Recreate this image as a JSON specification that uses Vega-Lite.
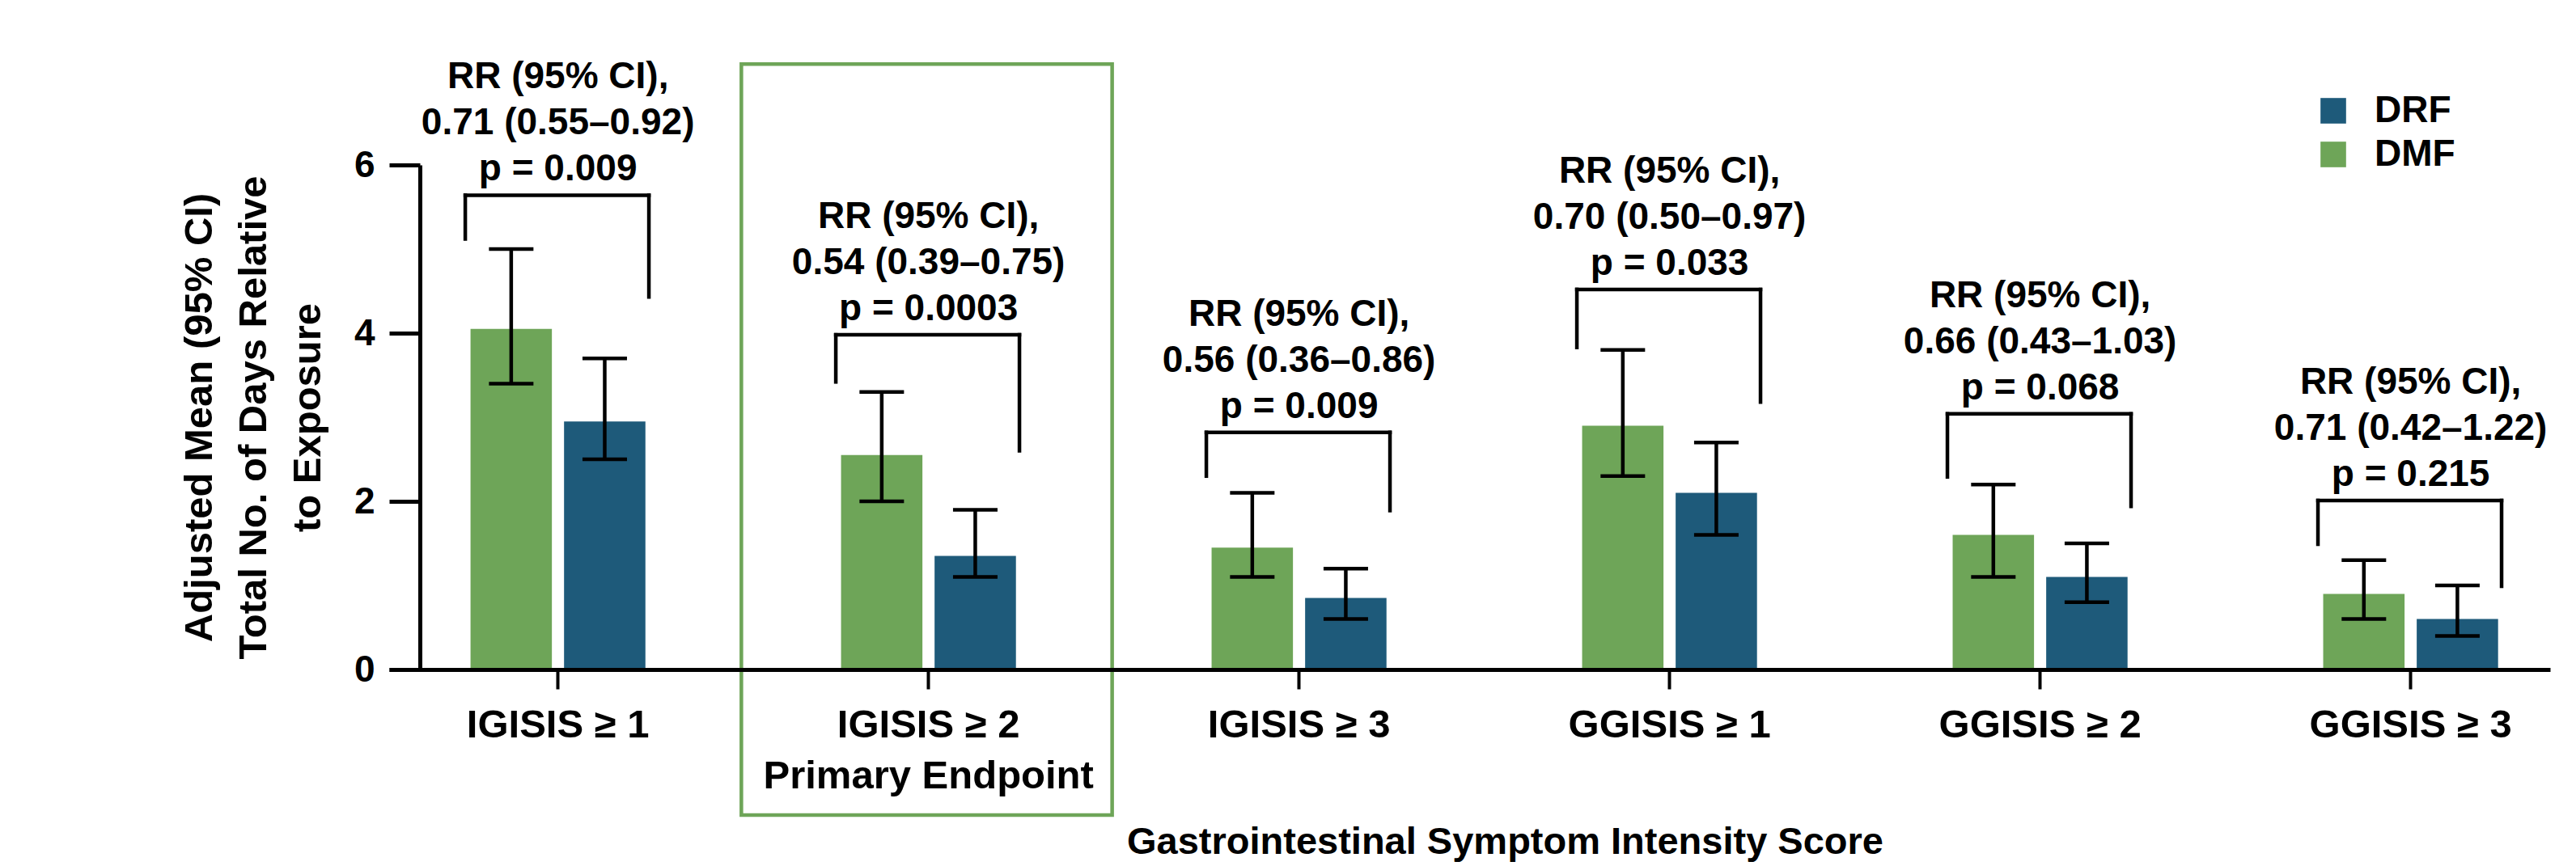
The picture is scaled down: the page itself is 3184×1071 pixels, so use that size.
{
  "$schema": "https://vega.github.io/schema/vega-lite/v6.json",
  "width": 2671,
  "height": 624,
  "autosize": {"type": "none"},
  "padding": {"left": 481, "top": 204, "right": 32, "bottom": 243},
  "background": "white",
  "config": {"font": "Liberation Sans", "view": {"stroke": null}, "axis": {"grid": false}},
  "datasets": {
    "bars": [
      {"score": "IGISIS ≥ 1", "drug": "DMF", "mean": 4.05, "lo": 3.4, "hi": 5.0},
      {"score": "IGISIS ≥ 1", "drug": "DRF", "mean": 2.95, "lo": 2.5, "hi": 3.7},
      {"score": "IGISIS ≥ 2", "drug": "DMF", "mean": 2.55, "lo": 2.0, "hi": 3.3},
      {"score": "IGISIS ≥ 2", "drug": "DRF", "mean": 1.35, "lo": 1.1, "hi": 1.9},
      {"score": "IGISIS ≥ 3", "drug": "DMF", "mean": 1.45, "lo": 1.1, "hi": 2.1},
      {"score": "IGISIS ≥ 3", "drug": "DRF", "mean": 0.85, "lo": 0.6, "hi": 1.2},
      {"score": "GGISIS ≥ 1", "drug": "DMF", "mean": 2.9, "lo": 2.3, "hi": 3.8},
      {"score": "GGISIS ≥ 1", "drug": "DRF", "mean": 2.1, "lo": 1.6, "hi": 2.7},
      {"score": "GGISIS ≥ 2", "drug": "DMF", "mean": 1.6, "lo": 1.1, "hi": 2.2},
      {"score": "GGISIS ≥ 2", "drug": "DRF", "mean": 1.1, "lo": 0.8, "hi": 1.5},
      {"score": "GGISIS ≥ 3", "drug": "DMF", "mean": 0.9, "lo": 0.6, "hi": 1.3},
      {"score": "GGISIS ≥ 3", "drug": "DRF", "mean": 0.6, "lo": 0.4, "hi": 1.0}
    ],
    "ann": [
      {"score": "IGISIS ≥ 1", "bt": 5.64, "le": 5.12, "re": 4.43, "label": "RR (95% CI),\n0.71 (0.55–0.92)\np = 0.009"},
      {"score": "IGISIS ≥ 2", "bt": 3.98, "le": 3.42, "re": 2.6, "label": "RR (95% CI),\n0.54 (0.39–0.75)\np = 0.0003"},
      {"score": "IGISIS ≥ 3", "bt": 2.82, "le": 2.3, "re": 1.89, "label": "RR (95% CI),\n0.56 (0.36–0.86)\np = 0.009"},
      {"score": "GGISIS ≥ 1", "bt": 4.52, "le": 3.83, "re": 3.18, "label": "RR (95% CI),\n0.70 (0.50–0.97)\np = 0.033"},
      {"score": "GGISIS ≥ 2", "bt": 3.04, "le": 2.29, "re": 1.94, "label": "RR (95% CI),\n0.66 (0.43–1.03)\np = 0.068"},
      {"score": "GGISIS ≥ 3", "bt": 2.01, "le": 1.49, "re": 0.99, "label": "RR (95% CI),\n0.71 (0.42–1.22)\np = 0.215"}
    ]
  },
  "layer": [
    {
      "data": {"name": "ann"},
      "transform": [{"filter": "datum.score === 'IGISIS ≥ 2'"}],
      "mark": {"type": "rect", "fill": "white", "fillOpacity": 0, "stroke": "#6ea558", "strokeWidth": 4.5},
      "encoding": {
        "x": {"field": "score", "type": "nominal", "bandPosition": -0.57},
        "x2": {"field": "score", "bandPosition": 1.55},
        "y": {"datum": 7.2},
        "y2": {"datum": -1.73}
      }
    },
    {
      "data": {"name": "bars"},
      "mark": {"type": "bar"},
      "encoding": {
        "x": {
          "field": "score", "type": "nominal",
          "scale": {"domain": ["IGISIS ≥ 1", "IGISIS ≥ 2", "IGISIS ≥ 3", "GGISIS ≥ 1", "GGISIS ≥ 2", "GGISIS ≥ 3"], "paddingInner": 0.528, "paddingOuter": 0.18, "align": 0.61},
          "axis": {
            "title": "Gastrointestinal Symptom Intensity Score",
            "labelAngle": 0, "labelAlign": "center", "labelBaseline": "top",
            "labelFontSize": 49, "labelFontWeight": "bold", "labelColor": "black",
            "labelPadding": 20, "labelLineHeight": 63, "labelLimit": 1000,
            "labelExpr": "datum.value === 'IGISIS ≥ 2' ? ['IGISIS ≥ 2', 'Primary Endpoint'] : datum.value",
            "tickSize": 24, "tickWidth": 4, "tickColor": "black",
            "domainColor": "black", "domainWidth": 5,
            "titleFontSize": 47, "titleFontWeight": "bold", "titleColor": "black",
            "titlePadding": 34, "titleX": 1379, "zindex": 1
          }
        },
        "xOffset": {"field": "drug", "type": "nominal", "scale": {"domain": ["DMF", "DRF"], "paddingInner": 0.13, "paddingOuter": 0}},
        "y": {
          "field": "mean", "type": "quantitative",
          "scale": {"domain": [0, 6], "nice": false},
          "axis": {
            "title": ["Adjusted Mean (95% CI)", "Total No. of Days Relative", "to Exposure"],
            "values": [0, 2, 4, 6], "format": "d", "offset": -38,
            "tickSize": 38, "tickWidth": 5, "tickColor": "black",
            "domainWidth": 5, "domainColor": "black",
            "labelFontSize": 46, "labelFontWeight": "bold", "labelColor": "black", "labelPadding": 18,
            "titleFontSize": 49, "titleFontWeight": "bold", "titleColor": "black",
            "titleLineHeight": 67, "titlePadding": 32
          }
        },
        "color": {
          "field": "drug", "type": "nominal",
          "scale": {"domain": ["DRF", "DMF"], "range": ["#1e5a7a", "#6ea558"]},
          "legend": {
            "title": null, "orient": "none", "legendX": 2380, "legendY": -90,
            "symbolType": "square", "symbolSize": 1000, "symbolStrokeWidth": 0, "symbolOpacity": 1,
            "labelFontSize": 46, "labelFontWeight": "bold", "labelColor": "black",
            "labelOffset": 28, "rowPadding": 8, "padding": 0
          }
        }
      }
    },
    {
      "data": {"name": "bars"},
      "mark": {"type": "rule", "strokeWidth": 4.5, "color": "black"},
      "encoding": {
        "x": {"field": "score", "type": "nominal"},
        "xOffset": {"field": "drug", "type": "nominal"},
        "y": {"field": "lo", "type": "quantitative"},
        "y2": {"field": "hi"}
      }
    },
    {
      "data": {"name": "bars"},
      "mark": {"type": "tick", "orient": "horizontal", "size": 55, "thickness": 4.5, "color": "black", "opacity": 1},
      "encoding": {
        "x": {"field": "score", "type": "nominal"},
        "xOffset": {"field": "drug", "type": "nominal"},
        "y": {"field": "hi", "type": "quantitative"}
      }
    },
    {
      "data": {"name": "bars"},
      "mark": {"type": "tick", "orient": "horizontal", "size": 55, "thickness": 4.5, "color": "black", "opacity": 1},
      "encoding": {
        "x": {"field": "score", "type": "nominal"},
        "xOffset": {"field": "drug", "type": "nominal"},
        "y": {"field": "lo", "type": "quantitative"}
      }
    },
    {
      "data": {"name": "ann"},
      "mark": {"type": "rule", "strokeWidth": 4.5, "color": "black", "strokeCap": "square"},
      "encoding": {
        "x": {"field": "score", "type": "nominal", "bandPosition": -0.03},
        "x2": {"field": "score", "bandPosition": 1.02},
        "y": {"field": "bt", "type": "quantitative"}
      }
    },
    {
      "data": {"name": "ann"},
      "mark": {"type": "rule", "strokeWidth": 4.5, "color": "black", "strokeCap": "square"},
      "encoding": {
        "x": {"field": "score", "type": "nominal", "bandPosition": -0.03},
        "y": {"field": "bt", "type": "quantitative"},
        "y2": {"field": "le"}
      }
    },
    {
      "data": {"name": "ann"},
      "mark": {"type": "rule", "strokeWidth": 4.5, "color": "black", "strokeCap": "square"},
      "encoding": {
        "x": {"field": "score", "type": "nominal", "bandPosition": 1.02},
        "y": {"field": "bt", "type": "quantitative"},
        "y2": {"field": "re"}
      }
    },
    {
      "data": {"name": "ann"},
      "mark": {"type": "text", "baseline": "bottom", "align": "center", "fontSize": 46, "fontWeight": "bold", "lineBreak": "\n", "lineHeight": 57, "dy": -122, "color": "black"},
      "encoding": {
        "x": {"field": "score", "type": "nominal"},
        "y": {"field": "bt", "type": "quantitative"},
        "text": {"field": "label", "type": "nominal"}
      }
    }
  ]
}
